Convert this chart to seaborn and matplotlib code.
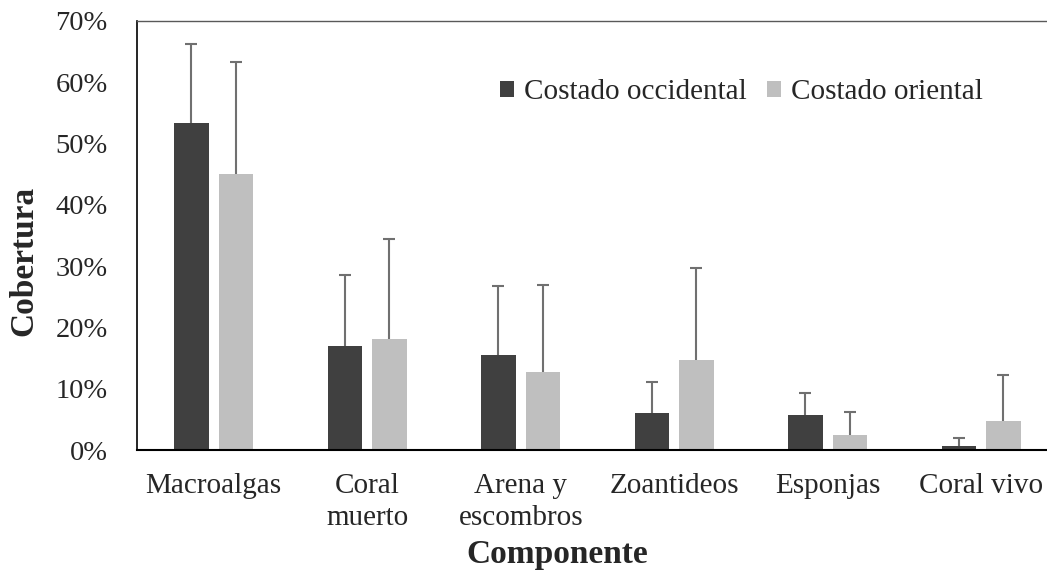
import matplotlib
matplotlib.use("Agg")
import matplotlib.pyplot as plt
from matplotlib.patches import Patch
import seaborn as sns
import pandas as pd
import numpy as np

categories = ["Macroalgas", "Coral\nmuerto", "Arena y\nescombros", "Zoantideos", "Esponjas", "Coral vivo"]
series_names = ["Costado occidental", "Costado oriental"]
occidental = [53.4, 17.0, 15.6, 6.1, 5.7, 0.7]
oriental = [45.1, 18.1, 12.8, 14.7, 2.5, 4.7]
occidental_err = [12.8, 11.5, 11.2, 5.1, 3.7, 1.3]
oriental_err = [18.1, 16.4, 14.2, 15.0, 3.8, 7.6]
yticks = [0, 10, 20, 30, 40, 50, 60, 70]
colors = ["#404040", "#bfbfbf"]

df = pd.DataFrame({
    "Componente": categories * 2,
    "Serie": [series_names[0]] * len(categories) + [series_names[1]] * len(categories),
    "Cobertura": occidental + oriental,
})

sns.set_theme(style="white")
plt.rcParams["font.family"] = ["Liberation Serif", "DejaVu Serif"]
plt.rcParams["font.size"] = 21

fig = plt.figure(figsize=(10.47, 5.71), dpi=100)
ax = fig.add_axes([0.1308, 0.2114, 0.8797, 0.7523])

sns.barplot(data=df, x="Componente", y="Cobertura", hue="Serie",
            palette=colors, width=0.58, gap=0.23, ax=ax, legend=False,
            errorbar=None, saturation=1, linewidth=0)

errs = [occidental_err, oriental_err]
for cont, err in zip(ax.containers, errs):
    xs = [b.get_x() + b.get_width() / 2 for b in cont]
    hs = [b.get_height() for b in cont]
    _, caps, _ = ax.errorbar(xs, hs, yerr=[np.zeros(len(err)), err], fmt="none",
                             ecolor="#707070", elinewidth=1.5, capsize=4.3,
                             capthick=1.5, zorder=1)
    caps[0].set_visible(False)

ax.set_xlim(-0.5, 5.5)
ax.set_ylim(0, 70)
ax.set_yticks(yticks)
ax.set_yticklabels([f"{v}%" for v in yticks])
ax.tick_params(axis="y", length=0, pad=21, labelsize=20.5)
ax.tick_params(axis="x", length=0, pad=16.5, labelsize=21)
for lab in ax.get_xticklabels():
    lab.set_linespacing(1.28)

ax.set_xlabel("Componente", fontsize=24, fontweight="bold")
ax.set_ylabel("Cobertura", fontsize=24, fontweight="bold")
ax.xaxis.set_label_coords(0.456, -0.206)
ax.xaxis.label.set_va("top")
ax.yaxis.set_label_coords(-0.123, 0.44)
ax.yaxis.label.set_va("center")

ax.spines["right"].set_visible(False)
ax.spines["top"].set_color("#595959")
ax.spines["top"].set_linewidth(1.0)
ax.spines["left"].set_color("black")
ax.spines["left"].set_linewidth(1.2)
ax.spines["bottom"].set_color("black")
ax.spines["bottom"].set_linewidth(1.5)

handles = [Patch(facecolor=c, edgecolor="none") for c in colors]
fig.legend(handles, series_names, loc="center left",
           bbox_to_anchor=(500 / 1047, 1 - 92 / 571), ncol=2, frameon=False,
           fontsize=21, handlelength=0.47, handleheight=0.47,
           handletextpad=0.35, columnspacing=0.7, borderpad=0, borderaxespad=0)

fig.savefig("out.png", dpi=100)
